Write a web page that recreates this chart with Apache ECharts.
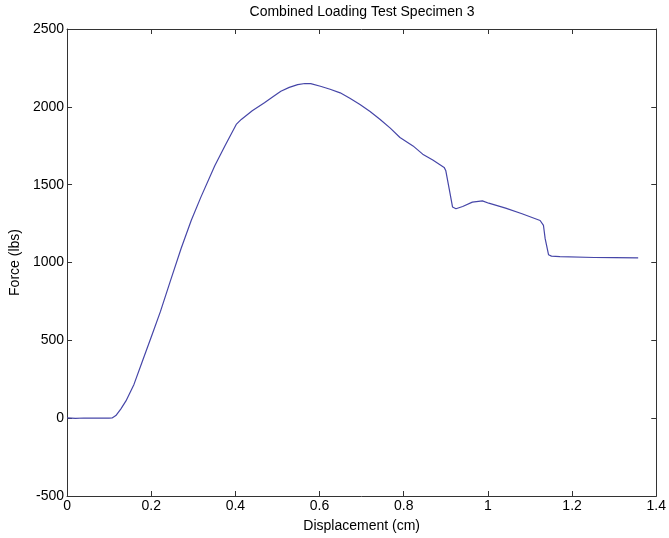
<!DOCTYPE html>
<html>
<head>
<meta charset="utf-8">
<script src="https://cdn.jsdelivr.net/npm/echarts@6/dist/echarts.min.js"></script>
<style>html,body{margin:0;padding:0;background:#fff;}#c{width:669px;height:538px;}</style>
</head>
<body>
<div id="c"></div>
<script>
var titleText = 'Combined Loading Test Specimen 3';
var xLabel = 'Displacement (cm)';
var yLabel = 'Force (lbs)';
var displacement = [0, 0.02, 0.04, 0.06, 0.08, 0.10, 0.107, 0.116, 0.128, 0.140, 0.159, 0.179, 0.202, 0.222, 0.245, 0.271, 0.295, 0.318, 0.351, 0.375, 0.402, 0.414, 0.440, 0.469, 0.490, 0.508, 0.528, 0.548, 0.565, 0.579, 0.602, 0.625, 0.649, 0.672, 0.696, 0.720, 0.744, 0.768, 0.791, 0.822, 0.845, 0.869, 0.896, 0.900, 0.908, 0.916, 0.924, 0.940, 0.963, 0.987, 1.002, 1.042, 1.081, 1.124, 1.132, 1.136, 1.144, 1.151, 1.171, 1.253, 1.300, 1.357];
var force = [2, -1, 1, 0, 1, 0, 1, 17, 60, 111, 217, 366, 536, 686, 877, 1090, 1270, 1420, 1621, 1749, 1887, 1919, 1975, 2026, 2066, 2100, 2125, 2143, 2150, 2149, 2132, 2113, 2090, 2055, 2015, 1970, 1919, 1863, 1803, 1749, 1696, 1658, 1611, 1589, 1473, 1356, 1345, 1360, 1388, 1396, 1381, 1349, 1313, 1270, 1238, 1153, 1050, 1041, 1038, 1032, 1031, 1030];
var xRange = [0, 1.4, 0.2];
var yRange = [-500, 2500, 500];

var data = displacement.map(function (x, i) { return [x, force[i]]; });
var font = 'Liberation Sans, Arial, sans-serif';
var axisColor = '#333';
var fs = 14;
function fmt(v) { return String(Math.round(v * 1000) / 1000); }
function mkX(show, pos) {
  return {
    type: 'value', min: xRange[0], max: xRange[1], interval: xRange[2], position: pos,
    axisLine: { show: true, onZero: false, lineStyle: { color: axisColor, width: 1 } },
    axisTick: { show: true, inside: true, length: 5, lineStyle: { color: axisColor } },
    axisLabel: { show: show, color: '#000', fontSize: fs, fontFamily: font, margin: 3, formatter: fmt },
    splitLine: { show: false },
    name: show ? xLabel : '', nameLocation: 'middle', nameGap: 23,
    nameTextStyle: { color: '#000', fontSize: fs, fontFamily: font }
  };
}
function mkY(show, pos) {
  return {
    type: 'value', min: yRange[0], max: yRange[1], interval: yRange[2], position: pos,
    axisLine: { show: true, onZero: false, lineStyle: { color: axisColor, width: 1 } },
    axisTick: { show: true, inside: true, length: 5, lineStyle: { color: axisColor } },
    axisLabel: { show: show, color: '#000', fontSize: fs, fontFamily: font, margin: 3, formatter: fmt },
    splitLine: { show: false },
    name: show ? yLabel : '', nameLocation: 'middle', nameGap: 42,
    nameTextStyle: { color: '#000', fontSize: fs, fontFamily: font }
  };
}
var chart = echarts.init(document.getElementById('c'), null, { renderer: 'canvas' });
chart.setOption({
  animation: false,
  backgroundColor: '#fff',
  graphic: [{
    type: 'text', x: 362, y: 12,
    style: { text: titleText, fill: '#000', fontSize: fs, fontFamily: font, align: 'center', verticalAlign: 'middle' }
  }],
  grid: { left: 64, right: 10, top: 29, bottom: 39, containLabel: false },
  xAxis: [mkX(true, 'bottom'), mkX(false, 'top')],
  yAxis: [mkY(true, 'left'), mkY(false, 'right')],
  series: [{
    type: 'line', data: data, xAxisIndex: 0, yAxisIndex: 0, showSymbol: false, smooth: false,
    lineStyle: { color: '#4646a8', width: 1.2 }
  }]
});
</script>
</body>
</html>
